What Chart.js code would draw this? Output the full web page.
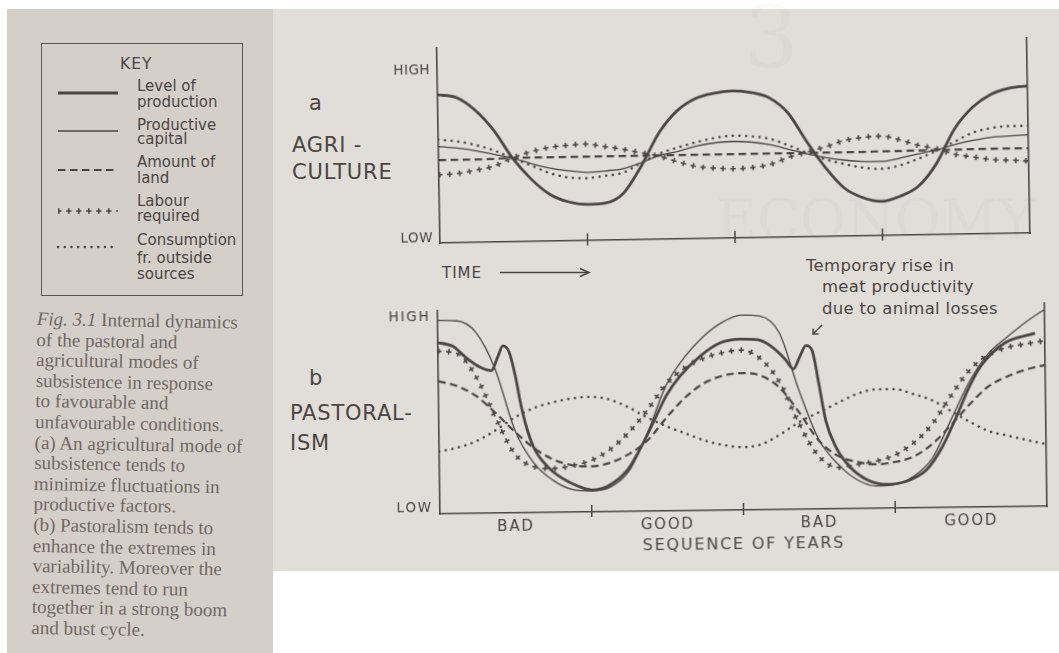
<!DOCTYPE html>
<html>
<head>
<meta charset="utf-8">
<title>Fig. 3.1 Internal dynamics of the pastoral and agricultural modes of subsistence</title>
<script src="https://cdn.jsdelivr.net/npm/chart.js@4.4.1/dist/chart.umd.min.js"></script>
<style>
  html, body { margin: 0; padding: 0; background: #ffffff; }
  body { width: 1059px; height: 653px; position: relative; overflow: hidden; font-family: 'DejaVu Sans', 'Noto Sans', sans-serif; }
  .sheet { position: absolute; }
  #leftPage { left: 7px; top: 9px; width: 266px; height: 644px; background: #d5cfca; }
  #mainPage { left: 273px; top: 9px; width: 786px; height: 562px; background: #e1ddd9; }
  .ghost { position: absolute; color: rgba(95, 85, 75, 0.03); font-family: 'DejaVu Serif', serif; white-space: nowrap; line-height: 1; }
  .t { position: absolute; white-space: nowrap; color: #4b4644; line-height: 1; }
  .key { font-size: 15px; }
  .panel { font-size: 21px; letter-spacing: 0.8px; }
  .note { font-size: 16.5px; letter-spacing: 0.3px; color: #4b4644; }
  #keyBox { position: absolute; left: 41px; top: 43px; width: 202px; height: 253px; box-sizing: border-box; border: 1.6px solid #5b5653; }
  #caption { position: absolute; left: 37px; top: 309px; font-family: 'Liberation Serif', 'DejaVu Serif', serif; font-size: 19px; line-height: 20.6px; color: #6f6863; white-space: nowrap; transform: rotate(1deg); transform-origin: 0 0; }
  canvas { position: absolute; }
  #agriChart { left: 380px; top: 28px; transform: rotate(-0.97deg); transform-origin: 355px 210px; }
  #pastoralChart { left: 380px; top: 292px; transform: rotate(-0.72deg); transform-origin: 363.5px 218px; }
  svg { position: absolute; left: 0; top: 0; }
</style>
</head>
<body>
<div class="sheet" id="leftPage"></div>
<div class="sheet" id="mainPage"></div>

<!-- faint print showing through from the facing page -->
<div class="ghost" style="left:744px; top:-6px; font-size:86px;">3</div>
<div class="ghost" style="left:716px; top:192px; font-size:56px;">ECONOMY</div>

<!-- key -->
<div id="keyBox"></div>
<div class="t key" style="left:120px; top:57px; font-size:15.5px; letter-spacing:1px;">KEY</div>
<div class="t key" style="left:137px; top:79px;">Level of</div>
<div class="t key" style="left:137px; top:95px;">production</div>
<div class="t key" style="left:137px; top:118px;">Productive</div>
<div class="t key" style="left:137px; top:132px;">capital</div>
<div class="t key" style="left:137px; top:155px;">Amount of</div>
<div class="t key" style="left:137px; top:171px;">land</div>
<div class="t key" style="left:137px; top:194px;">Labour</div>
<div class="t key" style="left:137px; top:209px;">required</div>
<div class="t key" style="left:137px; top:233px;">Consumption</div>
<div class="t key" style="left:137px; top:251px;">fr. outside</div>
<div class="t key" style="left:137px; top:267px;">sources</div>

<div id="caption"><i>Fig. 3.1</i> Internal dynamics<br>of the pastoral and<br>agricultural modes of<br>subsistence in response<br>to favourable and<br>unfavourable conditions.<br>(a) An agricultural mode of<br>subsistence tends to<br>minimize fluctuations in<br>productive factors.<br>(b) Pastoralism tends to<br>enhance the extremes in<br>variability. Moreover the<br>extremes tend to run<br>together in a strong boom<br>and bust cycle.</div>

<!-- panel names -->
<div class="t panel" style="left:309px; top:93px;">a</div>
<div class="t panel" style="left:292px; top:135px;">AGRI -</div>
<div class="t panel" style="left:292px; top:162px;">CULTURE</div>
<div class="t panel" style="left:309px; top:368px;">b</div>
<div class="t panel" style="left:290px; top:403px;">PASTORAL-</div>
<div class="t panel" style="left:290px; top:433px;">ISM</div>

<div class="t" style="left:442px; top:266px; font-size:15px; letter-spacing:1px;">TIME</div>

<div class="t note" style="left:806px; top:258px;">Temporary rise in</div>
<div class="t note" style="left:822px; top:279px;">meat productivity</div>
<div class="t note" style="left:822px; top:301px;">due to animal losses</div>

<canvas id="agriChart" width="660" height="230"></canvas>
<canvas id="pastoralChart" width="677" height="268"></canvas>

<svg width="1059" height="653" viewBox="0 0 1059 653">
  <g stroke="#4b4644" fill="none">
    <!-- key samples -->
    <line x1="58" y1="93" x2="118" y2="93" stroke-width="2.8"/>
    <line x1="58" y1="131" x2="118" y2="131" stroke-width="1.3"/>
    <line x1="58" y1="170" x2="118" y2="170" stroke-width="2.2" stroke-dasharray="7.5 4.5"/>
    <line x1="58" y1="211" x2="118" y2="211" stroke-width="5.5" stroke-dasharray="1.6 8.4"/>
    <line x1="58" y1="211" x2="118" y2="211" stroke-width="1.6" stroke-dasharray="5.5 4.5" stroke-dashoffset="1.95"/>
    <line x1="58" y1="247" x2="118" y2="247" stroke-width="2.4" stroke-dasharray="0.1 6.6" stroke-linecap="round"/>
    <!-- time arrow -->
    <line x1="500" y1="272.5" x2="589" y2="272.5" stroke-width="1.6"/>
    <polyline points="580,268.5 589,272.5 580,276.5" stroke-width="1.6"/>
    <!-- pointer to the second rise -->
    <line x1="822" y1="325" x2="813" y2="334" stroke-width="1.4"/>
    <polyline points="813,328.5 813,334 818.5,334" stroke-width="1.4"/>
  </g>
</svg>

<script>
// Time axis: 16 steps, dividers every 4 steps.
const years = [0, 0.5, 1, 1.5, 2, 2.5, 3, 3.5, 4, 4.5, 5, 5.5, 6, 6.5, 7, 7.5, 8,
               8.5, 9, 9.5, 10, 10.5, 11, 11.5, 12, 12.5, 13, 13.5, 14, 14.5, 15, 15.5, 16];

// (a) Agriculture
const agriProduction  = [7.6, 7.45, 6.8, 5.75, 4.3, 3.2, 2.4, 2.0, 1.85, 1.9, 2.4, 3.8, 5.5, 6.6, 7.2, 7.45, 7.55,
                         7.45, 7.15, 6.35, 4.85, 3.5, 2.45, 1.95, 1.75, 2.0, 2.5, 3.65, 5.4, 6.5, 7.15, 7.45, 7.55];
const agriCapital     = [4.95, 4.85, 4.7, 4.5, 4.3, 4.0, 3.75, 3.6, 3.5, 3.55, 3.65, 3.95, 4.3, 4.5, 4.75, 4.9, 4.95,
                         4.9, 4.75, 4.5, 4.25, 4.05, 3.9, 3.82, 3.8, 3.95, 4.15, 4.35, 4.6, 4.8, 4.95, 5.0, 5.05];
const agriLand        = [4.25, 4.25, 4.25, 4.27, 4.3, 4.3, 4.3, 4.3, 4.3, 4.3, 4.3, 4.3, 4.3, 4.3, 4.3, 4.3, 4.3,
                         4.3, 4.3, 4.3, 4.3, 4.3, 4.3, 4.3, 4.32, 4.32, 4.33, 4.33, 4.34, 4.35, 4.35, 4.35, 4.35];
const agriLabour      = [3.5, 3.55, 3.7, 3.9, 4.3, 4.6, 4.8, 4.9, 4.95, 4.8, 4.65, 4.45, 4.25, 3.95, 3.7, 3.6, 3.55,
                         3.6, 3.75, 4.1, 4.35, 4.6, 4.9, 5.05, 5.1, 4.9, 4.6, 4.4, 4.1, 3.95, 3.8, 3.75, 3.7];
const agriConsumption = [5.3, 5.2, 5.0, 4.7, 4.3, 3.9, 3.5, 3.25, 3.2, 3.3, 3.45, 3.95, 4.4, 4.7, 4.95, 5.15, 5.25,
                         5.2, 5.05, 4.7, 4.3, 3.95, 3.7, 3.5, 3.42, 3.58, 3.9, 4.3, 4.75, 5.2, 5.42, 5.5, 5.5];

// (b) Pastoralism
const pastoralProductionYears = [0, 0.4, 0.74, 1.11, 1.4, 1.58, 1.71, 1.87, 2.03, 2.16, 2.32, 2.5, 2.85, 3.22, 3.64,
                                 4.01, 4.43, 4.96, 5.32, 5.67, 6.01, 6.38, 6.91, 7.43, 7.96, 8.43, 8.78, 9.15, 9.36,
                                 9.54, 9.7, 9.86, 10.02, 10.2, 10.46, 10.81, 11.25, 11.78, 12.31, 12.84, 13.26, 13.63,
                                 13.97, 14.31, 14.94, 15.74];
const pastoralProduction = [8.44, 8.24, 7.67, 7.19, 7.02, 7.73, 8.24, 7.95, 6.75, 5.4, 4.14, 3.18, 2.26, 1.69, 1.28,
                            1.08, 1.26, 2.05, 3.16, 4.44, 5.71, 6.66, 7.61, 8.24, 8.42, 8.38, 8.05, 7.4, 6.92,
                            7.55, 8.06, 7.82, 6.26, 4.34, 3.04, 2.08, 1.43, 1.17, 1.32, 1.87, 2.98, 4.41,
                            5.85, 6.96, 8.07, 8.53];
const pastoralCapital     = [9.53, 9.5, 8.93, 7.1, 4.08, 2.42, 1.57, 1.11, 1.03, 1.21, 2.0, 3.88, 6.19, 7.58, 8.58, 9.26, 9.6,
                             9.54, 8.71, 5.87, 3.46, 2.21, 1.43, 1.1, 1.16, 1.56, 2.45, 4.32, 6.2, 7.55, 8.35, 9.08, 9.7];
const pastoralLand        = [6.54, 6.28, 5.77, 4.93, 4.0, 3.18, 2.61, 2.31, 2.25, 2.41, 2.83, 3.5, 4.6, 5.58, 6.27, 6.63, 6.75,
                             6.61, 5.99, 4.77, 3.39, 2.62, 2.3, 2.17, 2.27, 2.53, 3.14, 4.06, 5.08, 5.94, 6.42, 6.75, 6.96];
const pastoralLabour      = [8.01, 7.89, 6.72, 4.69, 2.88, 2.26, 2.16, 2.29, 2.54, 3.06, 3.89, 4.99, 6.24, 7.04, 7.51, 7.76, 7.88,
                             7.44, 6.25, 4.19, 2.61, 2.04, 2.17, 2.32, 2.6, 3.19, 4.11, 5.49, 6.74, 7.5, 7.85, 8.01, 8.16];
const pastoralConsumption = [3.07, 3.26, 3.57, 4.09, 4.7, 5.15, 5.42, 5.6, 5.67, 5.53, 5.13, 4.61, 4.17, 3.81, 3.45, 3.21, 3.1,
                             3.23, 3.71, 4.3, 4.75, 5.2, 5.63, 5.86, 5.87, 5.62, 5.3, 4.75, 4.2, 3.73, 3.5, 3.27, 3.06];

// Axis labelling
const levelNames = ['LOW', 'HIGH'];
const agriLevelTicks = [0.25, 8.85];
const pastoralLevelTicks = [0.25, 9.68];
const seasonNames = ['BAD', 'GOOD', 'BAD', 'GOOD'];
const seasonTicks = [2, 6, 10, 14];
const dividerTicks = [4, 8, 12];

const INK = '#4b4644';

const pair = (xs, ys) => xs.map((x, i) => ({ x: x, y: ys[i] }));

function seriesSet(prodX, prod, capital, land, labour, consumption) {
  const base = { borderColor: INK, pointRadius: 0, fill: false, cubicInterpolationMode: 'monotone', borderJoinStyle: 'round' };
  return [
    Object.assign({}, base, { label: 'Consumption fr. outside sources', data: pair(years, consumption),
      borderWidth: 2.5, borderDash: [0.1, 6.6], borderCapStyle: 'round' }),
    Object.assign({}, base, { label: 'Amount of land', data: pair(years, land),
      borderWidth: 2.2, borderDash: [7.5, 4.5] }),
    // labour: a row of small crosses, built from a short wide dash and a long thin dash
    Object.assign({}, base, { label: 'Labour required', data: pair(years, labour),
      borderWidth: 5.5, borderDash: [1.6, 8.4] }),
    Object.assign({}, base, { label: 'Labour required', data: pair(years, labour),
      borderWidth: 1.6, borderDash: [5.5, 4.5], borderDashOffset: 1.95 }),
    Object.assign({}, base, { label: 'Productive capital', data: pair(years, capital),
      borderWidth: 1.3 }),
    Object.assign({}, base, { label: 'Level of production', data: pair(prodX, prod),
      borderWidth: 2.8 })
  ];
}

// short marks crossing the time axis
const dividerPlugin = {
  id: 'dividers',
  afterDatasetsDraw(chart, args, opts) {
    const xs = chart.scales.x;
    const y = chart.chartArea.bottom;
    const ctx = chart.ctx;
    ctx.save();
    ctx.strokeStyle = INK;
    ctx.lineWidth = 1.5;
    (opts.at || []).forEach(v => {
      const px = xs.getPixelForValue(v);
      ctx.beginPath();
      ctx.moveTo(px, y - 7);
      ctx.lineTo(px, y + 5);
      ctx.stroke();
    });
    ctx.restore();
  }
};

// open lettering for the axis texts
const spacingPlugin = {
  id: 'lettering',
  beforeLayout(chart, args, opts) { chart.ctx.letterSpacing = opts.spacing || '0px'; },
  beforeDraw(chart, args, opts) { chart.ctx.letterSpacing = opts.spacing || '0px'; }
};

function makeChart(canvasId, datasets, cfg) {
  return new Chart(document.getElementById(canvasId), {
    type: 'line',
    data: { datasets: datasets },
    options: {
      responsive: false,
      animation: false,
      events: [],
      layout: { padding: { top: 10, right: 10, bottom: 0, left: 0 } },
      plugins: {
        legend: { display: false },
        tooltip: { enabled: false },
        dividers: { at: dividerTicks },
        lettering: { spacing: cfg.spacing }
      },
      scales: {
        x: {
          type: 'linear', min: 0, max: 16,
          grid: { display: false, drawTicks: false },
          border: { display: true, color: INK, width: 1.6 },
          afterBuildTicks: s => { s.ticks = cfg.xTicks.map(v => ({ value: v })); },
          ticks: {
            display: cfg.xNames.length > 0,
            autoSkip: false, maxRotation: 0, padding: 5,
            color: INK, font: { family: 'DejaVu Sans', size: 15 },
            callback: (v, i) => cfg.xNames[i]
          },
          title: {
            display: !!cfg.xTitle, text: cfg.xTitle || '', color: INK,
            font: { family: 'DejaVu Sans', size: 16 }, padding: { top: 0, bottom: 6 }
          },
          afterFit: s => { s.height = cfg.xHeight; }
        },
        y: {
          type: 'linear', position: 'left', min: 0, max: 10,
          grid: { display: false, drawTicks: false },
          border: { display: true, color: INK, width: 1.6 },
          afterBuildTicks: s => { s.ticks = cfg.yTicks.map(v => ({ value: v })); },
          ticks: {
            autoSkip: false, padding: 7, color: INK,
            font: { family: 'DejaVu Sans', size: 13.5 },
            callback: (v, i) => levelNames[i]
          },
          afterFit: s => { s.width = 60; }
        },
        yRight: {
          type: 'linear', position: 'right', min: 0, max: 10,
          grid: { display: false, drawTicks: false },
          border: { display: true, color: INK, width: 1.6 },
          ticks: { display: false },
          afterFit: s => { s.width = 0; }
        }
      }
    },
    plugins: [dividerPlugin, spacingPlugin]
  });
}

makeChart('agriChart',
  seriesSet(years, agriProduction, agriCapital, agriLand, agriLabour, agriConsumption),
  { xTicks: [], xNames: [], xTitle: '', xHeight: 20, yTicks: agriLevelTicks, spacing: '0.5px' });

makeChart('pastoralChart',
  seriesSet(pastoralProductionYears, pastoralProduction, pastoralCapital, pastoralLand, pastoralLabour, pastoralConsumption),
  { xTicks: seasonTicks, xNames: seasonNames, xTitle: 'SEQUENCE OF YEARS', xHeight: 50, yTicks: pastoralLevelTicks, spacing: '1.8px' });
</script>
</body>
</html>
